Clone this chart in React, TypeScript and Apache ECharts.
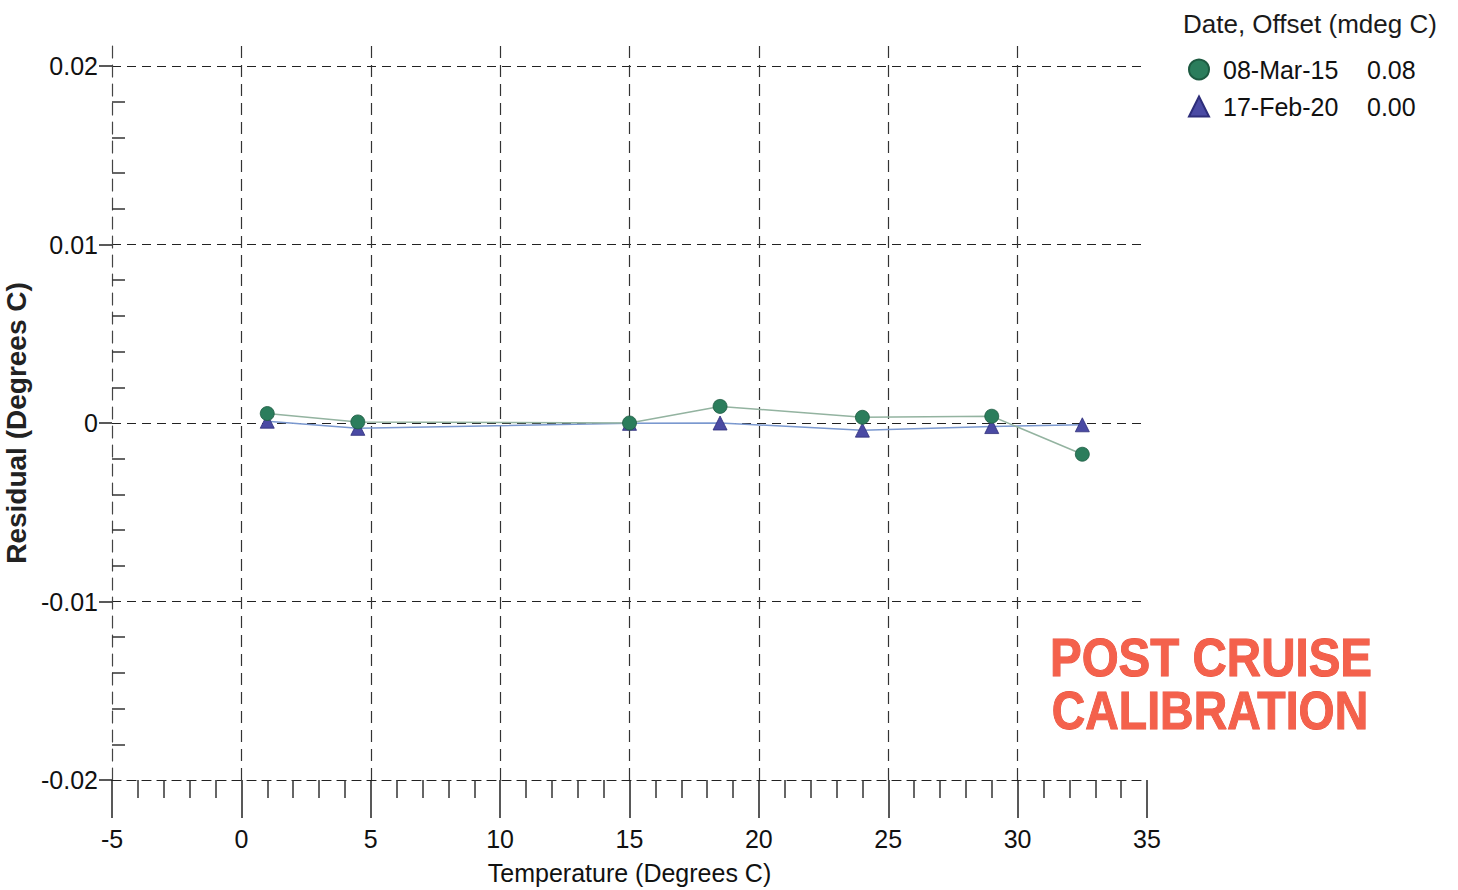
import React, { useEffect, useRef } from "react";
import * as echarts from "echarts";

// ---- data ----
const temperatures: number[] = [1, 4.5, 15, 18.5, 24, 29, 32.5];
const residualMar15: number[] = [0.00053, 0.00006, 0.0, 0.00093, 0.00032, 0.00038, -0.00175];
const residualFeb20: number[] = [0.0001, -0.0003, -0.00002, 0.0, -0.0004, -0.0002, -0.0001];
const seriesNames: string[] = ["08-Mar-15", "17-Feb-20"];
const offsets: string[] = ["0.08", "0.00"];
const legendTitle = "Date, Offset (mdeg C)";
const xAxisName = "Temperature (Degrees C)";
const yAxisName = "Residual (Degrees C)";
const stampLines: string[] = ["POST CRUISE", "CALIBRATION"];

const SANS = "'Liberation Sans', Arial, sans-serif";
const GRID_DASH = [9, 6];

export default function App() {
  const ref = useRef<HTMLDivElement>(null);

  useEffect(() => {
    if (!ref.current) return;
    const chart = echarts.init(ref.current, undefined, { renderer: "svg" });

    const gridBox = { left: 112, right: 311, bottom: 110, containLabel: false, outerBoundsMode: "none" };

    const option: any = {
      animation: false,
      backgroundColor: "#ffffff",
      title: {
        text: legendTitle,
        left: 1178,
        top: 6,
        textStyle: { fontFamily: SANS, fontSize: 26, fontWeight: "normal", color: "#1a1a1a" },
      },
      legend: {
        orient: "vertical",
        left: 1183,
        top: 52,
        itemWidth: 20,
        itemHeight: 20,
        itemGap: 12,
        data: [
          { name: seriesNames[0], icon: "circle" },
          { name: seriesNames[1], icon: "triangle" },
        ],
        formatter: (name: string) => {
          const i = seriesNames.indexOf(name);
          return `{n|${name}}{v|${offsets[i]}}`;
        },
        textStyle: {
          rich: {
            n: { fontFamily: SANS, fontSize: 25, color: "#111", width: 144, padding: [0, 0, 0, 9] },
            v: { fontFamily: SANS, fontSize: 25, color: "#111" },
          },
        },
      },
      grid: [
        { ...gridBox, top: 66 },
        { ...gridBox, top: 46 },
      ],
      xAxis: [
        {
          type: "value",
          gridIndex: 0,
          min: -5,
          max: 35,
          interval: 5,
          name: xAxisName,
          nameLocation: "middle",
          nameGap: 80,
          nameTextStyle: { fontFamily: SANS, fontSize: 25, color: "#111" },
          axisLine: { show: true, onZero: false, lineStyle: { color: "#222", width: 1.2, type: GRID_DASH } },
          axisTick: { show: true, inside: false, length: 38, lineStyle: { color: "#222", width: 1.5 } },
          minorTick: { show: true, splitNumber: 5, length: 18, lineStyle: { color: "#333", width: 1.5 } },
          axisLabel: {
            margin: 46,
            fontFamily: SANS,
            fontSize: 25,
            color: "#111",
          },
          splitLine: { show: false },
        },
        {
          type: "value",
          gridIndex: 1,
          min: -5,
          max: 35,
          interval: 5,
          axisLine: { show: false, onZero: false },
          axisTick: { show: false },
          axisLabel: { show: false },
          splitLine: {
            show: true,
            showMinLine: false,
            showMaxLine: false,
            lineStyle: { color: "#333", width: 1.2, type: [12, 7] },
          },
        },
      ],
      yAxis: [
        {
          type: "value",
          gridIndex: 0,
          min: -0.02,
          max: 0.02,
          interval: 0.01,
          name: yAxisName,
          nameLocation: "middle",
          nameRotate: 90,
          nameGap: 68,
          nameTextStyle: { fontFamily: SANS, fontSize: 28, fontWeight: "bold", color: "#222" },
          axisLine: { show: false, onZero: false },
          axisTick: { show: true, inside: false, length: 13, lineStyle: { color: "#222", width: 1.5 } },
          axisLabel: {
            margin: 14,
            fontFamily: SANS,
            fontSize: 25,
            color: "#111",
            formatter: (v: number) => (Math.abs(v) < 1e-9 ? "0" : v.toFixed(2)),
          },
          splitLine: {
            show: true,
            showMinLine: false,
            showMaxLine: true,
            lineStyle: { color: "#222", width: 1.2, type: GRID_DASH },
          },
        },
        {
          type: "value",
          gridIndex: 0,
          min: -0.02,
          max: 0.02,
          interval: 0.01,
          position: "left",
          axisLine: { show: false, onZero: false },
          axisTick: { show: false, inside: true },
          minorTick: { show: true, splitNumber: 5, length: 13, lineStyle: { color: "#333", width: 1.5 } },
          axisLabel: { show: false },
          splitLine: { show: false },
        },
        {
          type: "value",
          gridIndex: 1,
          min: 0,
          max: 1,
          axisLine: { show: true, onZero: false, lineStyle: { color: "#444", width: 1.2, type: [12, 7] } },
          axisTick: { show: false },
          axisLabel: { show: false },
          splitLine: { show: false },
        },
      ],
      series: [
        {
          name: seriesNames[1],
          type: "line",
          xAxisIndex: 0,
          yAxisIndex: 0,
          data: temperatures.map((t, i) => [t, residualFeb20[i]]),
          symbol: "triangle",
          symbolSize: 14,
          itemStyle: { color: "#4a4aa3", borderColor: "#2e2e7a", borderWidth: 0.8 },
          lineStyle: { color: "#7a98cf", width: 1.5 },
          z: 3,
        },
        {
          name: seriesNames[0],
          type: "line",
          xAxisIndex: 0,
          yAxisIndex: 0,
          data: temperatures.map((t, i) => [t, residualMar15[i]]),
          symbol: "circle",
          symbolSize: 14,
          itemStyle: { color: "#2b7d5c", borderColor: "#1d5a41", borderWidth: 0.8 },
          lineStyle: { color: "#93b3a0", width: 1.5 },
          z: 4,
        },
      ],
      graphic: [
        {
          type: "text",
          x: 1211,
          y: 657,
          scaleX: 0.88,
          style: {
            text: stampLines[0],
            fontFamily: SANS,
            fontSize: 54,
            fontWeight: "bold",
            fill: "#f4614c",
            stroke: "#e8503c",
            lineWidth: 1,
            align: "center",
            verticalAlign: "middle",
          },
        },
        {
          type: "text",
          x: 1210,
          y: 710,
          scaleX: 0.86,
          style: {
            text: stampLines[1],
            fontFamily: SANS,
            fontSize: 54,
            fontWeight: "bold",
            fill: "#f4614c",
            stroke: "#e8503c",
            lineWidth: 1,
            align: "center",
            verticalAlign: "middle",
          },
        },
      ],
    };

    chart.setOption(option);
    return () => chart.dispose();
  }, []);

  return (
    <div
      ref={ref}
      style={{ position: "absolute", left: 0, top: 0, width: 1458, height: 890, background: "#fff" }}
    />
  );
}
